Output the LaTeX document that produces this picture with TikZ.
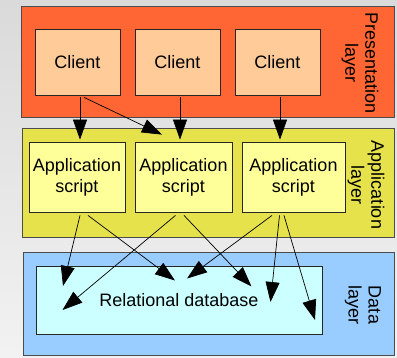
\documentclass[tikz,border=0pt]{standalone}
\usepackage{fontspec}
\setmainfont{Liberation Sans}
\usetikzlibrary{arrows.meta}
\definecolor{presc}{RGB}{255,102,51}
\definecolor{clientc}{RGB}{255,204,153}
\definecolor{applc}{RGB}{230,226,76}
\definecolor{appbox}{RGB}{255,255,153}
\definecolor{datalc}{RGB}{153,204,255}
\definecolor{dbc}{RGB}{204,255,255}
\definecolor{bgtop}{RGB}{218,218,218}
\definecolor{bgbot}{RGB}{242,242,242}
\begin{document}
\begin{tikzpicture}[x=1pt,y=-1pt,
  layerbox/.style={draw=black!70, line width=1pt, inner sep=0pt},
  itembox/.style={draw=black!85, line width=0.8pt, inner sep=0pt, align=center,
    font=\fontsize{18}{21}\selectfont},
  lab/.style={rotate=-90, font=\fontsize{18}{20}\selectfont, align=center, inner sep=0pt},
  arr/.style={-{Triangle[length=20pt,width=14pt]}, line width=0.7pt}]
\useasboundingbox (0,0) rectangle (397,357);
\fill[bgtop] (0,0) rectangle (397,357);
\shade[top color=bgtop, bottom color=bgbot] (0,0) rectangle (397,357);
% layers
\node[layerbox, fill=presc, minimum width=373pt, minimum height=111pt] (pl) at (207.5,61.5) {};
\node[layerbox, fill=applc, minimum width=372pt, minimum height=109pt] (al) at (208,182.5) {};
\node[layerbox, fill=datalc, minimum width=371pt, minimum height=103pt] (dl) at (208.5,303.5) {};
% labels
\node[lab] (plab) at (360,63) {Presentation\\layer};
\node[lab] (alab) at (366,185) {Application\\layer};
\node[lab] (dlab) at (363,305) {Data\\layer};
% clients
\node[itembox, fill=clientc, minimum width=85pt, minimum height=66pt] (c1) at (77.5,62) {Client};
\node[itembox, fill=clientc, minimum width=85pt, minimum height=66pt] (c2) at (177.5,62) {Client};
\node[itembox, fill=clientc, minimum width=85pt, minimum height=66pt] (c3) at (277.5,62) {Client};
% application scripts
\node[itembox, fill=appbox, minimum width=96pt, minimum height=70pt] (a1) at (77,177) {Application\\script};
\node[itembox, fill=appbox, minimum width=97pt, minimum height=70pt] (a2) at (183.5,177) {Application\\script};
\node[itembox, fill=appbox, minimum width=103pt, minimum height=70pt] (a3) at (293.5,177) {Application\\script};
% database
\node[itembox, fill=dbc, minimum width=286pt, minimum height=68pt] (db) at (179,300) {Relational database};
% arrow tips inside database
\coordinate (t1) at (63,286);
\coordinate (t2) at (175,280.5);
\coordinate (t3) at (62.5,310);
\coordinate (t4) at (251.5,286.5);
\coordinate (t5) at (187,278.5);
\coordinate (t6) at (270.5,302);
\coordinate (t7) at (315,320);
% client -> app
\draw[arr] ([xshift=2.5pt,yshift=-2pt]c1.south) -- ([xshift=3pt,yshift=2pt]a1.north);
\draw[arr] ([xshift=6.5pt,yshift=-2pt]c1.south) -- ([xshift=-21.5pt,yshift=7pt]a2.north);
\draw[arr] ([xshift=2.5pt,yshift=-2pt]c2.south) -- ([xshift=-3.5pt,yshift=2pt]a2.north);
\draw[arr] ([xshift=2.5pt,yshift=-2pt]c3.south) -- ([xshift=-13.5pt,yshift=2pt]a3.north);
% app -> data
\draw[arr] ([xshift=3pt,yshift=-3pt]a1.south) -- (t1);
\draw[arr] ([xshift=11pt,yshift=-3pt]a1.south) -- (t2);
\draw[arr] ([xshift=-8pt,yshift=-3pt]a2.south) -- (t3);
\draw[arr] ([xshift=0.5pt,yshift=-3pt]a2.south) -- (t4);
\draw[arr] ([xshift=-21.5pt,yshift=-3pt]a3.south) -- (t5);
\draw[arr] ([xshift=-14pt,yshift=-3pt]a3.south) -- (t6);
\draw[arr] ([xshift=-9.5pt,yshift=-3pt]a3.south) -- (t7);
\end{tikzpicture}
\end{document}
